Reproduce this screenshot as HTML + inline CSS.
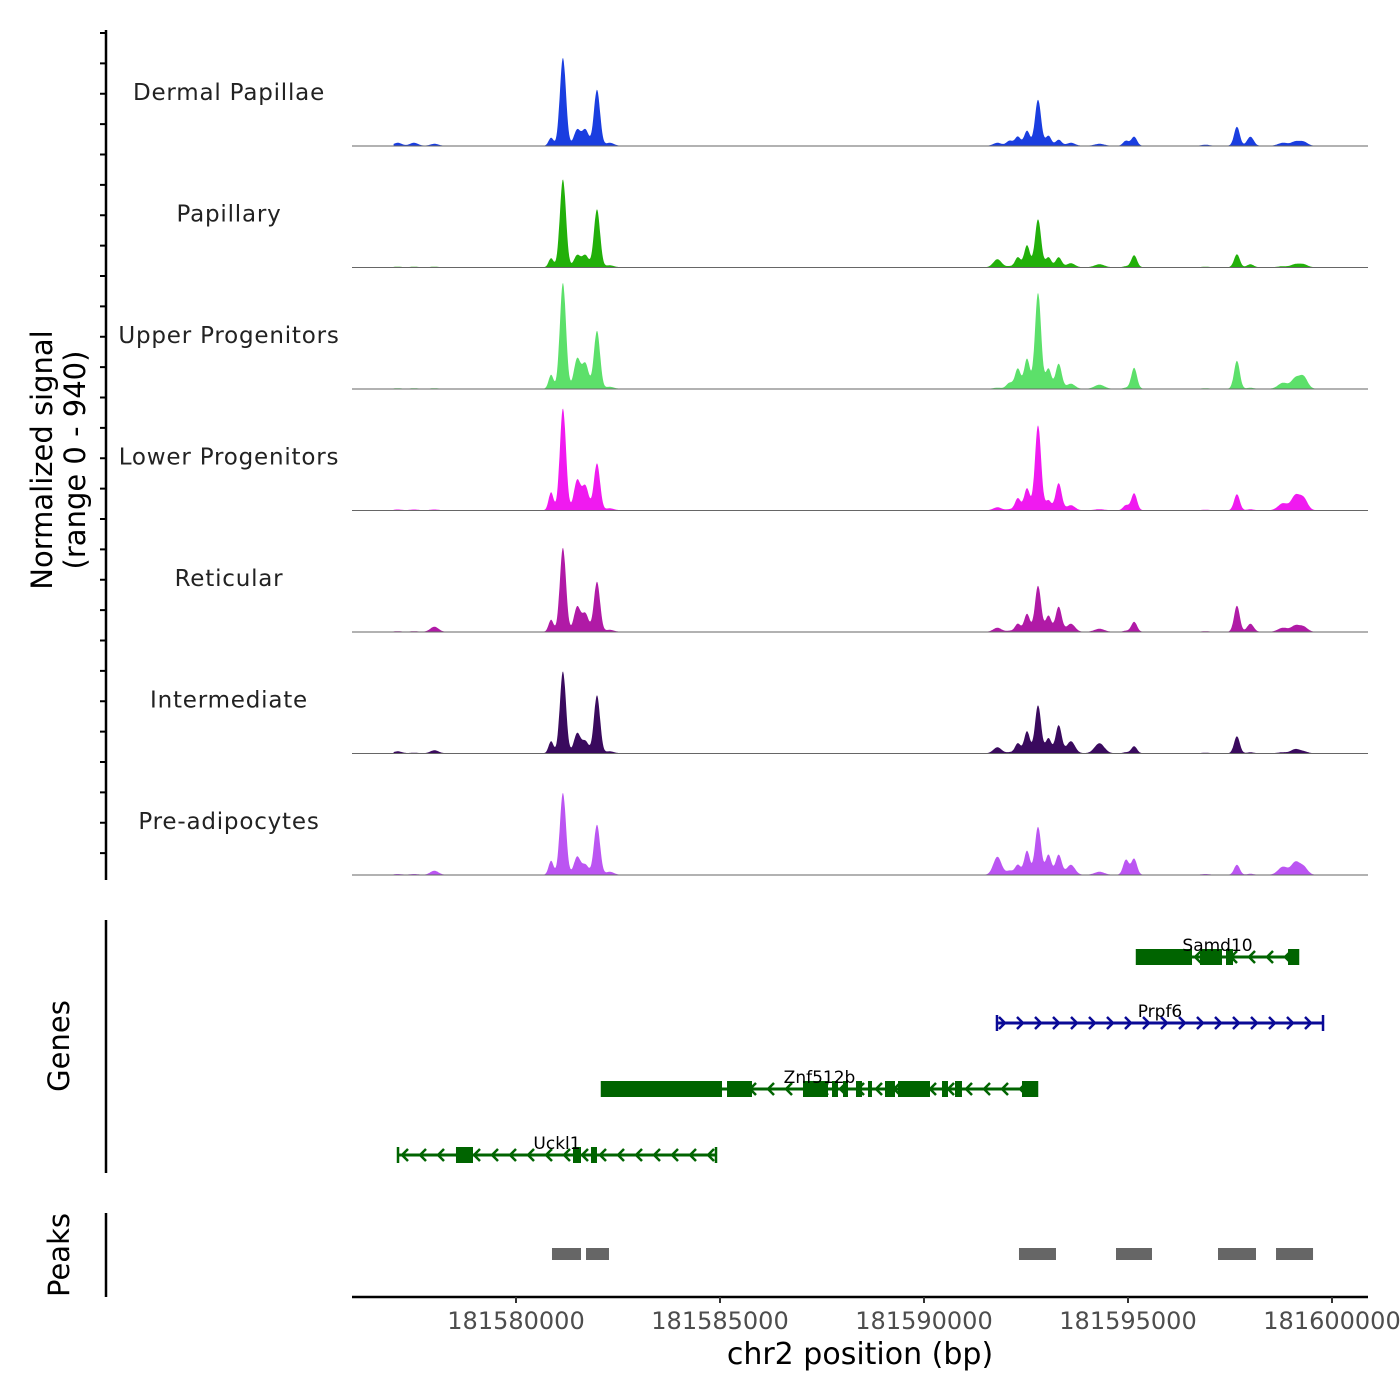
<!DOCTYPE html>
<html><head><meta charset="utf-8"><style>
body{margin:0;background:#fff}
svg{display:block;font-family:"DejaVu Sans","Liberation Sans",sans-serif}
</style></head><body>
<svg id="chart" width="1400" height="1400" xmlns="http://www.w3.org/2000/svg"></svg>
<script>
const trackNames = ["Dermal Papillae","Papillary","Upper Progenitors","Lower Progenitors","Reticular","Intermediate","Pre-adipocytes"];
const trackColors = ["#1a3ee0","#22b00a","#5ce06a","#f01af0","#b01aa6","#3a0a5e","#bb55f2"];
const peakCenters = [181577100,181577500,181578000,181580860,181581150,181581500,181581700,181581985,181582300,181591800,181592100,181592300,181592525,181592795,181593050,181593300,181593600,181594300,181594950,181595150,181596900,181597670,181598000,181598800,181599100,181599300];
const peakSigma   = [100,100,100,60,75,80,80,75,100,100,80,70,70,75,70,75,100,120,70,70,100,70,80,120,100,100];
const sigDermal = [23,23,15,62,680,124,124,433,23,23,39,70,116,356,77,46,23,15,39,70,8,147,70,23,31,31];
const sigPapillary = [4,4,4,70,680,93,93,448,15,62,8,77,170,371,77,77,31,23,8,93,4,100,23,8,23,23];
const sigUpper = [4,4,4,108,820,232,193,448,15,8,46,155,232,742,155,193,39,31,8,162,4,216,8,46,77,93];
const sigLower = [6,6,6,139,788,232,186,363,15,23,8,93,170,657,77,209,39,8,39,131,4,124,8,54,108,93];
const sigReticular = [4,4,39,93,650,193,139,387,15,31,8,62,139,356,124,193,62,23,8,77,4,201,62,31,46,39];
const sigIntermediate = [15,4,23,93,634,155,93,448,15,46,8,77,170,371,116,216,93,77,8,54,4,131,8,8,31,15];
const sigPreadipo = [6,6,31,108,634,139,77,387,23,139,31,77,186,371,155,155,77,23,116,124,6,77,8,62,93,62];
const trackSignals = [sigDermal,sigPapillary,sigUpper,sigLower,sigReticular,sigIntermediate,sigPreadipo];
const xTicks = [181580000,181585000,181590000,181595000,181600000];
const geneNames = ["Samd10","Prpf6","Znf512b","Uckl1"];
const geneStart = [181595221,181591789,181582108,181577108];
const geneEnd = [181599167,181599780,181592770,181584902];
const geneStrand = [-1,1,-1,-1];
const geneExons = [
 [[181595221,181596569],[181596765,181597304],[181597402,181597574],[181598922,181599167]],
 [],
 [[181582108,181585049],[181585172,181585784],[181587034,181587647],[181587745,181587892],[181588015,181588137],[181588333,181588480],[181588627,181588725],[181589044,181589289],[181589363,181590147],[181590441,181590588],[181590760,181590931],[181592402,181592770]],
 [[181578529,181578946],[181581397,181581593],[181581838,181581985]]
];
const peakStart = [181580882,181581716,181592328,181594706,181597206,181598628];
const peakEnd   = [181581593,181582279,181593235,181595588,181598137,181599535];

const NS="http://www.w3.org/2000/svg";
const svg=document.getElementById("chart");
function el(tag,attrs,parent){const e=document.createElementNS(NS,tag);for(const k in attrs)e.setAttribute(k,attrs[k]);(parent||svg).appendChild(e);return e;}
const X0=352,X1=1368;
function xs(bp){return 516+(bp-181580000)*0.0408;}
const trackH=121.5, base0=146, rangeMax=940;
function ys(v,i){return base0+i*trackH - v/rangeMax*trackH;}

let ax=el("line",{x1:106,y1:30,x2:106,y2:880,stroke:"#000","stroke-width":2.5});


for(let y=33;y<=880;y+=trackH/4){
  let t=el("line",{x1:100,y1:y,x2:106,y2:y,stroke:"#000","stroke-width":2});
  
  
}
let yl=el("text",{transform:"translate(52,460) rotate(-90)","text-anchor":"middle","font-size":29,fill:"#000"});


yl.innerHTML='<tspan x="0" dy="0">Normalized signal</tspan><tspan x="0" dy="33">(range 0 - 940)</tspan>';

trackNames.forEach((name,i)=>{
  const g=el("g",{});
  
  
  const base=base0+i*trackH;
  const sig=trackSignals[i];
  let d="M"+xs(181577000)+","+base;
  for(let bp=181577000;bp<=181599700;bp+=15){
    let v=2;
    for(let k=0;k<peakCenters.length;k++){const z=(bp-peakCenters[k])/peakSigma[k];if(Math.abs(z)<5)v+=sig[k]*Math.exp(-0.5*z*z);}
    d+=" L"+xs(bp).toFixed(1)+","+ys(v,i).toFixed(1);
  }
  d+=" L"+xs(181599700)+","+base+" Z";
  const p=el("path",{d:d,fill:trackColors[i]},g);
  
  
  const bl=el("line",{x1:X0,y1:base,x2:X1,y2:base,stroke:"#666","stroke-width":1},g);
  
  
  const t=el("text",{x:229,y:base-46,"text-anchor":"middle","font-size":23,fill:"#222","letter-spacing":"0.8"},g);
  
  
  t.textContent=name;
});

let ga=el("line",{x1:106,y1:920,x2:106,y2:1173,stroke:"#000","stroke-width":2.5});


let gl=el("text",{transform:"translate(69,1046) rotate(-90)","text-anchor":"middle","font-size":29});


gl.textContent="Genes";
const geneY=[957,1023,1089,1155];
geneNames.forEach((n,i)=>{
  const g=el("g",{});
  
  
  const col=geneStrand[i]>0?"#0a0a96":"#006400";
  const y=geneY[i],a=xs(geneStart[i]),b=xs(geneEnd[i]);
  el("line",{x1:a,y1:y,x2:b,y2:y,stroke:col,"stroke-width":3},g);
  for(let x=a+6;x<b-2;x+=18){
    const s=geneStrand[i];
    el("polyline",{points:`${x-4*s},${y-6} ${x+2*s},${y} ${x-4*s},${y+6}`,fill:"none",stroke:col,"stroke-width":2.5},g);
  }
  el("line",{x1:a,y1:y-8,x2:a,y2:y+8,stroke:col,"stroke-width":2.5},g);
  el("line",{x1:b,y1:y-8,x2:b,y2:y+8,stroke:col,"stroke-width":2.5},g);
  geneExons[i].forEach(ex=>{
    const r=el("rect",{x:xs(ex[0]),y:y-8,width:Math.max(3,xs(ex[1])-xs(ex[0])),height:16,fill:col},g);
    
    
  });
  const t=el("text",{x:(a+b)/2,y:y-6,"text-anchor":"middle","font-size":17,fill:"#000"},g);
  
  
  t.textContent=n;
});

let pa=el("line",{x1:106,y1:1213,x2:106,y2:1297,stroke:"#000","stroke-width":2.5});


let pl=el("text",{transform:"translate(69,1255) rotate(-90)","text-anchor":"middle","font-size":29});


pl.textContent="Peaks";
peakStart.forEach((s,i)=>{
  const r=el("rect",{x:xs(s),y:1248,width:xs(peakEnd[i])-xs(s),height:12,fill:"#666"});
  
  
});

let xa=el("line",{x1:X0,y1:1297,x2:X1,y2:1297,stroke:"#000","stroke-width":2.5});


xTicks.forEach(v=>{
  const x=xs(v);
  const t=el("line",{x1:x,y1:1297,x2:x,y2:1303,stroke:"#333","stroke-width":2});
  
  
  const l=el("text",{x:x,y:1329,"text-anchor":"middle","font-size":24,fill:"#4d4d4d"});
  
  
  l.textContent=v;
});
let xt=el("text",{x:860,y:1364,"text-anchor":"middle","font-size":30,fill:"#000"});


xt.textContent="chr2 position (bp)";
</script>
</body></html>
